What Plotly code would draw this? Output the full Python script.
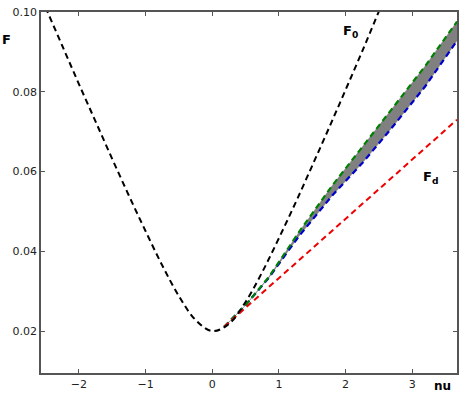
import plotly.graph_objects as go

# Black dashed curve F0
nu_f0 = [-2.5, -2.25, -2.0, -1.75, -1.5, -1.25, -1.0, -0.75, -0.5, -0.25, 0.0,
         0.25, 0.5, 0.75, 1.0, 1.25, 1.5, 1.75, 2.0, 2.25, 2.5]
F_f0 = [0.1012, 0.0916, 0.0820, 0.0726, 0.0632, 0.0540, 0.0451, 0.0365, 0.0288, 0.0228, 0.0200,
        0.0218, 0.0273, 0.0348, 0.0433, 0.0522, 0.0615, 0.0709, 0.0805, 0.0902, 0.1002]

# Red dashed line Fd
nu_fd = [0.18, 1.0, 2.0, 3.0, 3.67]
F_fd = [0.0211, 0.0333, 0.0482, 0.0631, 0.0730]

# Green (upper) and blue (lower) dashed curves bounding the gray band
nu_band = [0.18, 0.5, 0.85, 1.3, 1.8, 2.27, 2.69, 3.2, 3.67]
F_green = [0.0211, 0.0265, 0.0336, 0.0448, 0.0565, 0.0665, 0.0756, 0.0866, 0.0976]
F_blue = [0.0211, 0.0265, 0.0334, 0.0438, 0.0540, 0.0625, 0.0709, 0.0815, 0.0928]

x_ticks = [-2, -1, 0, 1, 2, 3]
x_tick_labels = ["\u22122", "\u22121", "0", "1", "2", "3"]
y_ticks = [0.02, 0.04, 0.06, 0.08, 0.10]
y_tick_labels = ["0.02", "0.04", "0.06", "0.08", "0.10"]

dash = "6px,4px"
fig = go.Figure()
# gray band
fig.add_trace(go.Scatter(x=nu_band, y=F_blue, mode="lines", line=dict(color="gray", width=0.5),
                         showlegend=False, hoverinfo="skip"))
fig.add_trace(go.Scatter(x=nu_band, y=F_green, mode="lines", line=dict(color="gray", width=0.5),
                         fill="tonexty", fillcolor="gray", showlegend=False, hoverinfo="skip"))
fig.add_trace(go.Scatter(x=nu_band, y=F_blue, mode="lines",
                         line=dict(color="#0000cc", width=2.2, dash=dash), showlegend=False))
fig.add_trace(go.Scatter(x=nu_band, y=F_green, mode="lines",
                         line=dict(color="#008000", width=2.2, dash=dash), showlegend=False))
fig.add_trace(go.Scatter(x=nu_fd, y=F_fd, mode="lines",
                         line=dict(color="#ee0000", width=2, dash=dash), showlegend=False))
fig.add_trace(go.Scatter(x=nu_f0, y=F_f0, mode="lines", line_shape="spline",
                         line=dict(color="black", width=2, dash=dash), showlegend=False))

axis_common = dict(showline=True, linecolor="#555555", linewidth=1.5, mirror="ticks",
                   ticks="inside", ticklen=4, tickcolor="#555555", showgrid=False,
                   zeroline=False, tickfont=dict(family="DejaVu Sans", size=11, color="#222222"))
fig.update_xaxes(range=[-2.567, 3.67], tickvals=x_ticks, ticktext=x_tick_labels, **axis_common)
fig.update_yaxes(range=[0.0095, 0.10], tickvals=y_ticks, ticktext=y_tick_labels, **axis_common)

fig.add_annotation(x=2.08, y=0.0952, text="<b>F<sub>0</sub></b>", showarrow=False,
                   font=dict(family="DejaVu Sans", size=13, color="black"))
fig.add_annotation(x=3.27, y=0.0584, text="<b>F<sub>d</sub></b>", showarrow=False,
                   font=dict(family="DejaVu Sans", size=13, color="black"))
fig.add_annotation(x=-0.084, y=0.925, xref="paper", yref="paper", text="<b>F</b>", showarrow=False,
                   xanchor="center", yanchor="middle",
                   font=dict(family="DejaVu Sans", size=13, color="black"))
fig.add_annotation(x=0.966, y=-0.035, xref="paper", yref="paper", text="<b>nu</b>", showarrow=False,
                   xanchor="center", yanchor="middle",
                   font=dict(family="DejaVu Sans", size=12, color="black"))

fig.update_layout(width=464, height=402, margin=dict(l=41, r=5, t=12, b=29),
                  plot_bgcolor="white", paper_bgcolor="white")
fig.write_html("out.html")
